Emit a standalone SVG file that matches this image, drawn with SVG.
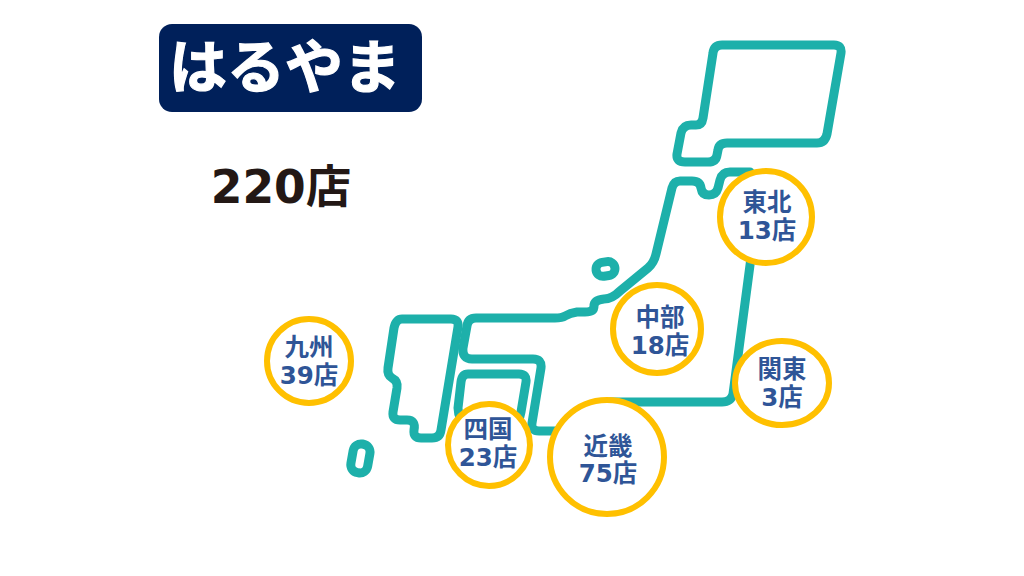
<svg xmlns="http://www.w3.org/2000/svg" width="1024" height="576" viewBox="0 0 1024 576">
<style>
.land{fill:none;stroke:#1db0aa;stroke-width:9;stroke-linejoin:round;stroke-linecap:round}
.area{fill:#fff;stroke:#ffc000;stroke-width:6}
.lbl{font-family:"DejaVu Sans","Noto Sans CJK JP",sans-serif;font-weight:700;font-size:24.5px;fill:#2f5597;text-anchor:middle}
</style>
<rect width="1024" height="576" fill="#fff"/>
<g id="title"><rect x="159" y="24" width="263" height="88" rx="13" fill="#00205a"/>
<text x="285" y="88" font-family="'Noto Sans CJK JP',sans-serif" font-weight="700" font-size="58" fill="#fff" stroke="#fff" stroke-width="1.2" text-anchor="middle">はるやま</text></g>
<g id="total"><text x="281" y="203" font-family="'DejaVu Sans','Noto Sans CJK JP',sans-serif" font-weight="700" font-size="45.5" fill="#231815" text-anchor="middle">220店</text></g>
<g id="map">
<path class="land" d="M722 45H834Q842 45 841 53L827 134Q825 143 817 143H727Q719 143 718 150L717 155Q716 162 708 162H685Q676 162 677 154L681 133Q683 125 691 125H696Q702 125 703 118L713 53Q714 45 722 45Z"/>
<path class="land" d="M750 172H730Q722 172 720 180L718 188Q716 195 709 195Q702 195 701 188Q700 181 692 181H680Q674 181 672 188L656 254Q654 263 648 268L620 291Q612 299 604 299Q594 300 594 306Q594 312 585 312H577Q570 313 565 316Q562 318 555 318H476Q468 318 467 326L463 348Q462 359 472 359H533Q542 359 541 368L532 423Q531 431 539 431H570"/>
<path class="land" d="M610 402H722Q731 402 733 394L752 250"/>
<path class="land" d="M468 374H519Q527 374 526 382L521 412Q519 425 510 430L470 430Q458 420 458 408L461 382Q462 374 468 374Z"/>
<path class="land" d="M402 319H451Q459 319 458 327L441 430Q440 438 432 438H421Q413 438 414 430Q416 420 407 420H400Q392 420 393 412L397 388Q398 381 392 378Q387 375 388 368L394 328Q396 319 402 319Z"/>
<rect class="land" x="596" y="262" width="19" height="14" rx="7" transform="rotate(-8 605 269)"/>
<rect class="land" x="352" y="444" width="17" height="29" rx="8" transform="rotate(10 361 458)"/>
</g>
<g id="kyushu"><circle class="area" cx="309" cy="361" r="42"/><text class="lbl" x="309" y="356">九州</text><text class="lbl" x="309" y="384">39店</text></g>
<g id="shikoku"><circle class="area" cx="489" cy="445" r="41"/><text class="lbl" x="488" y="438">四国</text><text class="lbl" x="488" y="466">23店</text></g>
<g id="kinki"><circle class="area" cx="607" cy="457" r="57"/><text class="lbl" x="608" y="455">近畿</text><text class="lbl" x="608" y="482">75店</text></g>
<g id="chubu"><circle class="area" cx="657" cy="329" r="44"/><text class="lbl" x="660" y="326">中部</text><text class="lbl" x="660" y="354">18店</text></g>
<g id="kanto"><ellipse class="area" cx="782" cy="383" rx="47" ry="42"/><text class="lbl" x="782" y="378">関東</text><text class="lbl" x="782" y="406">3店</text></g>
<g id="tohoku"><circle class="area" cx="766" cy="217" r="46"/><text class="lbl" x="767" y="211">東北</text><text class="lbl" x="767" y="239">13店</text></g>
</svg>
